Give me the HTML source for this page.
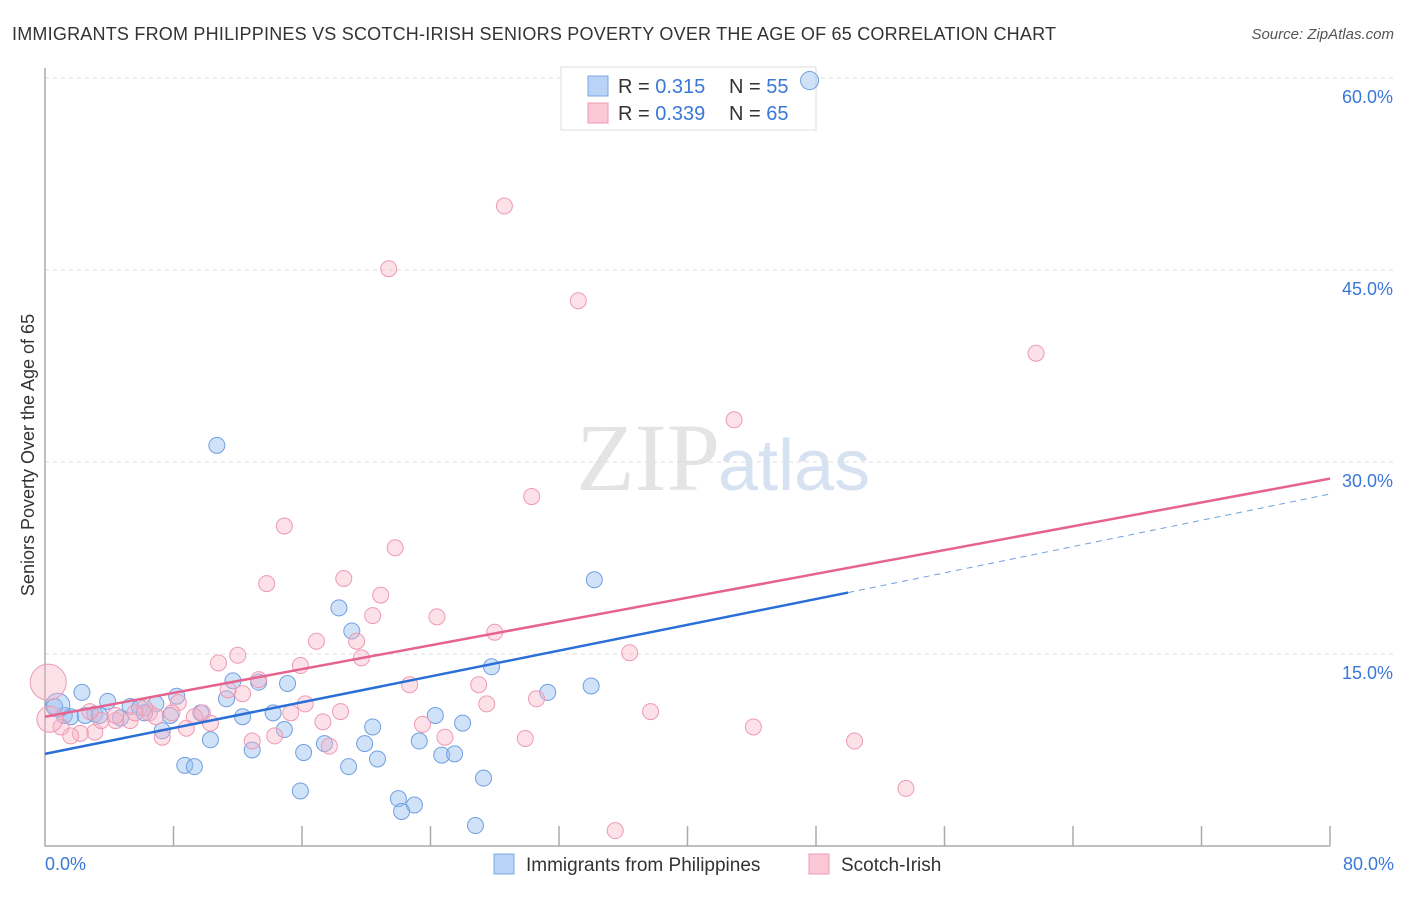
<!DOCTYPE html>
<html><head><meta charset="utf-8"><style>
body{margin:0;background:#fff;font-family:"Liberation Sans",sans-serif;}
</style></head><body>
<svg id="c" width="1406" height="892" xmlns="http://www.w3.org/2000/svg" font-family="Liberation Sans, sans-serif">
<text x="12" y="40" font-size="18" fill="#333" textLength="1044">IMMIGRANTS FROM PHILIPPINES VS SCOTCH-IRISH SENIORS POVERTY OVER THE AGE OF 65 CORRELATION CHART</text>
<text x="1394" y="39" font-size="15" fill="#555" font-style="italic" text-anchor="end">Source: ZipAtlas.com</text>
<text x="720" y="490" font-size="96" fill="#e4e4e4" text-anchor="end" font-family="Liberation Serif, serif">ZIP</text>
<text x="718" y="490" font-size="72" fill="#d6e2f2">atlas</text>
<text transform="translate(34,455) rotate(-90)" font-size="18" fill="#333" text-anchor="middle">Seniors Poverty Over the Age of 65</text>
<g id="grid"></g>
<g>
<rect x="561" y="67" width="255" height="63" fill="#fff" stroke="#ddd"/>
<rect x="588" y="76" width="20" height="20" fill="#b8d3f5" stroke="#7aa8e6"/>
<rect x="588" y="103" width="20" height="20" fill="#fbc8d7" stroke="#ee9ab4"/>
<text x="618" y="93" font-size="20" fill="#333">R = <tspan fill="#3a78d8">0.315</tspan></text>
<text x="729" y="93" font-size="20" fill="#333">N = <tspan fill="#3a78d8">55</tspan></text>
<text x="618" y="120" font-size="20" fill="#333">R = <tspan fill="#3a78d8">0.339</tspan></text>
<text x="729" y="120" font-size="20" fill="#333">N = <tspan fill="#3a78d8">65</tspan></text>
</g>
<g id="pts"></g><g id="lines"></g>
<g>
<rect x="494" y="854" width="20" height="20" fill="#b8d3f5" stroke="#7aa8e6"/>
<text x="526" y="871" font-size="19" fill="#333">Immigrants from Philippines</text>
<rect x="809" y="854" width="20" height="20" fill="#fbc8d7" stroke="#ee9ab4"/>
<text x="841" y="871" font-size="19" fill="#333">Scotch-Irish</text>
</g>
</svg>
<script>
const yTicks=[15,30,45,60];
const xTickLabels=["0.0%","80.0%"];
const blueX=[47.6,10.7,34.2,18.3,19.1,27.8,31.3,34.0,2.3,3.9,5.3,8.2,11.7,15.1,11.3,13.3,14.2,12.3,10.3,12.9,8.7,9.3,16.1,17.4,18.9,19.9,20.4,20.7,23.3,24.3,24.7,25.5,26.0,27.3,15.9,22.0,23.0,22.2,26.8,7.3,5.9,6.9,4.7,3.1,1.2,0.6,1.6,2.5,3.4,6.2,7.8,9.7,14.9,0.8];
const blueY=[59.8,31.3,20.8,18.6,16.8,14.0,12.0,12.5,12.0,11.3,10.9,11.7,12.9,12.7,11.5,12.8,10.4,10.1,8.3,7.5,6.3,6.2,7.3,8.0,6.2,8.0,9.3,6.8,8.2,10.2,7.1,7.2,9.6,5.3,4.3,3.7,3.2,2.7,1.6,9.0,10.8,11.1,10.0,10.3,10.2,10.9,10.1,10.2,10.2,10.4,10.2,10.4,9.1,11.0];
const blueR=[9,8,8,8,8,8,8,8,8,8,8,8,8,8,8,8,8,8,8,8,8,8,8,8,8,8,8,8,8,8,8,8,8,8,8,8,8,8,8,8,8,8,8,8,8,8,8,8,8,8,8,8,8,12];
const pinkX=[28.6,21.4,33.2,61.7,42.9,30.3,14.9,21.8,13.8,18.6,20.9,20.4,24.4,16.9,19.4,28.0,36.4,10.8,12.0,15.9,19.7,22.7,27.0,27.5,30.6,37.7,44.1,50.4,53.6,35.5,29.9,24.9,23.5,18.4,17.3,16.2,15.3,14.3,12.9,12.3,13.3,11.4,9.8,10.3,8.8,8.3,7.3,6.5,5.3,4.4,3.1,2.2,1.6,1.0,0.3,0.2,3.5,2.8,6.2,7.9,9.3,17.7,4.4,5.6,6.9];
const pinkY=[50.0,45.1,42.6,38.5,33.3,27.3,25.0,23.3,20.5,20.9,19.6,18.0,17.9,16.0,16.0,16.7,15.1,14.3,14.9,14.1,14.7,12.6,12.6,11.1,11.5,10.5,9.3,8.2,4.5,1.2,8.4,8.5,9.5,10.5,9.7,11.1,10.4,8.6,8.2,11.9,13.0,12.2,10.4,9.6,9.2,11.2,8.5,10.4,9.8,9.8,8.9,8.8,8.6,9.3,9.9,12.8,9.8,10.5,10.8,10.4,10.1,7.8,10.2,10.4,10.1];
const pinkR=[8,8,8,8,8,8,8,8,8,8,8,8,8,8,8,8,8,8,8,8,8,8,8,8,8,8,8,8,8,8,8,8,8,8,8,8,8,8,8,8,8,8,8,8,8,8,8,8,8,8,8,8,8,8,13,18,8,8,8,8,8,8,8,8,8];
const blueTrend=[[0,7.2],[50,19.8],[80,27.5]];
const pinkTrend=[[0,10.1],[80,28.7]];
const NS="http://www.w3.org/2000/svg";
const X=v=>45+v/80*1285, Y=v=>846-v/15*192;
function mk(t,a,p){const e=document.createElementNS(NS,t);for(const k in a)e.setAttribute(k,a[k]);p.appendChild(e);return e;}
const grid=document.getElementById('grid'),pts=document.getElementById('pts'),lines=document.getElementById('lines');
yTicks.forEach(t=>{
 const l=mk('line',{x1:45,x2:1394,y1:Y(t),y2:Y(t),stroke:'#ddd','stroke-dasharray':'4,4'},grid);
 
 
 const tx=mk('text',{x:1393,y:Y(t)+25,'font-size':18,fill:'#3a78d8','text-anchor':'end'},grid);tx.textContent=t.toFixed(1)+'%';
 
 
});
const ax=mk('path',{d:'M45,68 V846 H1330',fill:'none',stroke:'#aaa','stroke-width':1.5},grid);


for(let i=1;i<=10;i++){const l=mk('line',{x1:X(i*8),x2:X(i*8),y1:826,y2:846,stroke:'#aaa','stroke-width':1.5},grid);
 
 }
[[0,'start',45],[1,'end',1394]].forEach(([i,a,x])=>{const t=mk('text',{x:x,y:870,'font-size':18,fill:'#3a78d8','text-anchor':a},grid);t.textContent=xTickLabels[i];
 
 });
blueX.forEach((v,i)=>{const c=mk('circle',{cx:X(v),cy:Y(blueY[i]),r:blueR[i],fill:'rgba(150,190,240,0.45)',stroke:'#6f9fe0','stroke-width':1},pts);
 
 });
pinkX.forEach((v,i)=>{const c=mk('circle',{cx:X(v),cy:Y(pinkY[i]),r:pinkR[i],fill:'rgba(248,180,200,0.4)',stroke:'#ee9ab4','stroke-width':1},pts);
 
 });
let b=blueTrend;
const bl=mk('line',{x1:X(b[0][0]),y1:Y(b[0][1]),x2:X(b[1][0]),y2:Y(b[1][1]),stroke:'#2a6fd6','stroke-width':2.5},lines);


const bd=mk('line',{x1:X(b[1][0]),y1:Y(b[1][1]),x2:X(b[2][0]),y2:Y(b[2][1]),stroke:'#6f9fe0','stroke-width':1,'stroke-dasharray':'6,5'},lines);


const pl=mk('line',{x1:X(pinkTrend[0][0]),y1:Y(pinkTrend[0][1]),x2:X(pinkTrend[1][0]),y2:Y(pinkTrend[1][1]),stroke:'#e5638e','stroke-width':2.5},lines);


</script>
</body></html>
